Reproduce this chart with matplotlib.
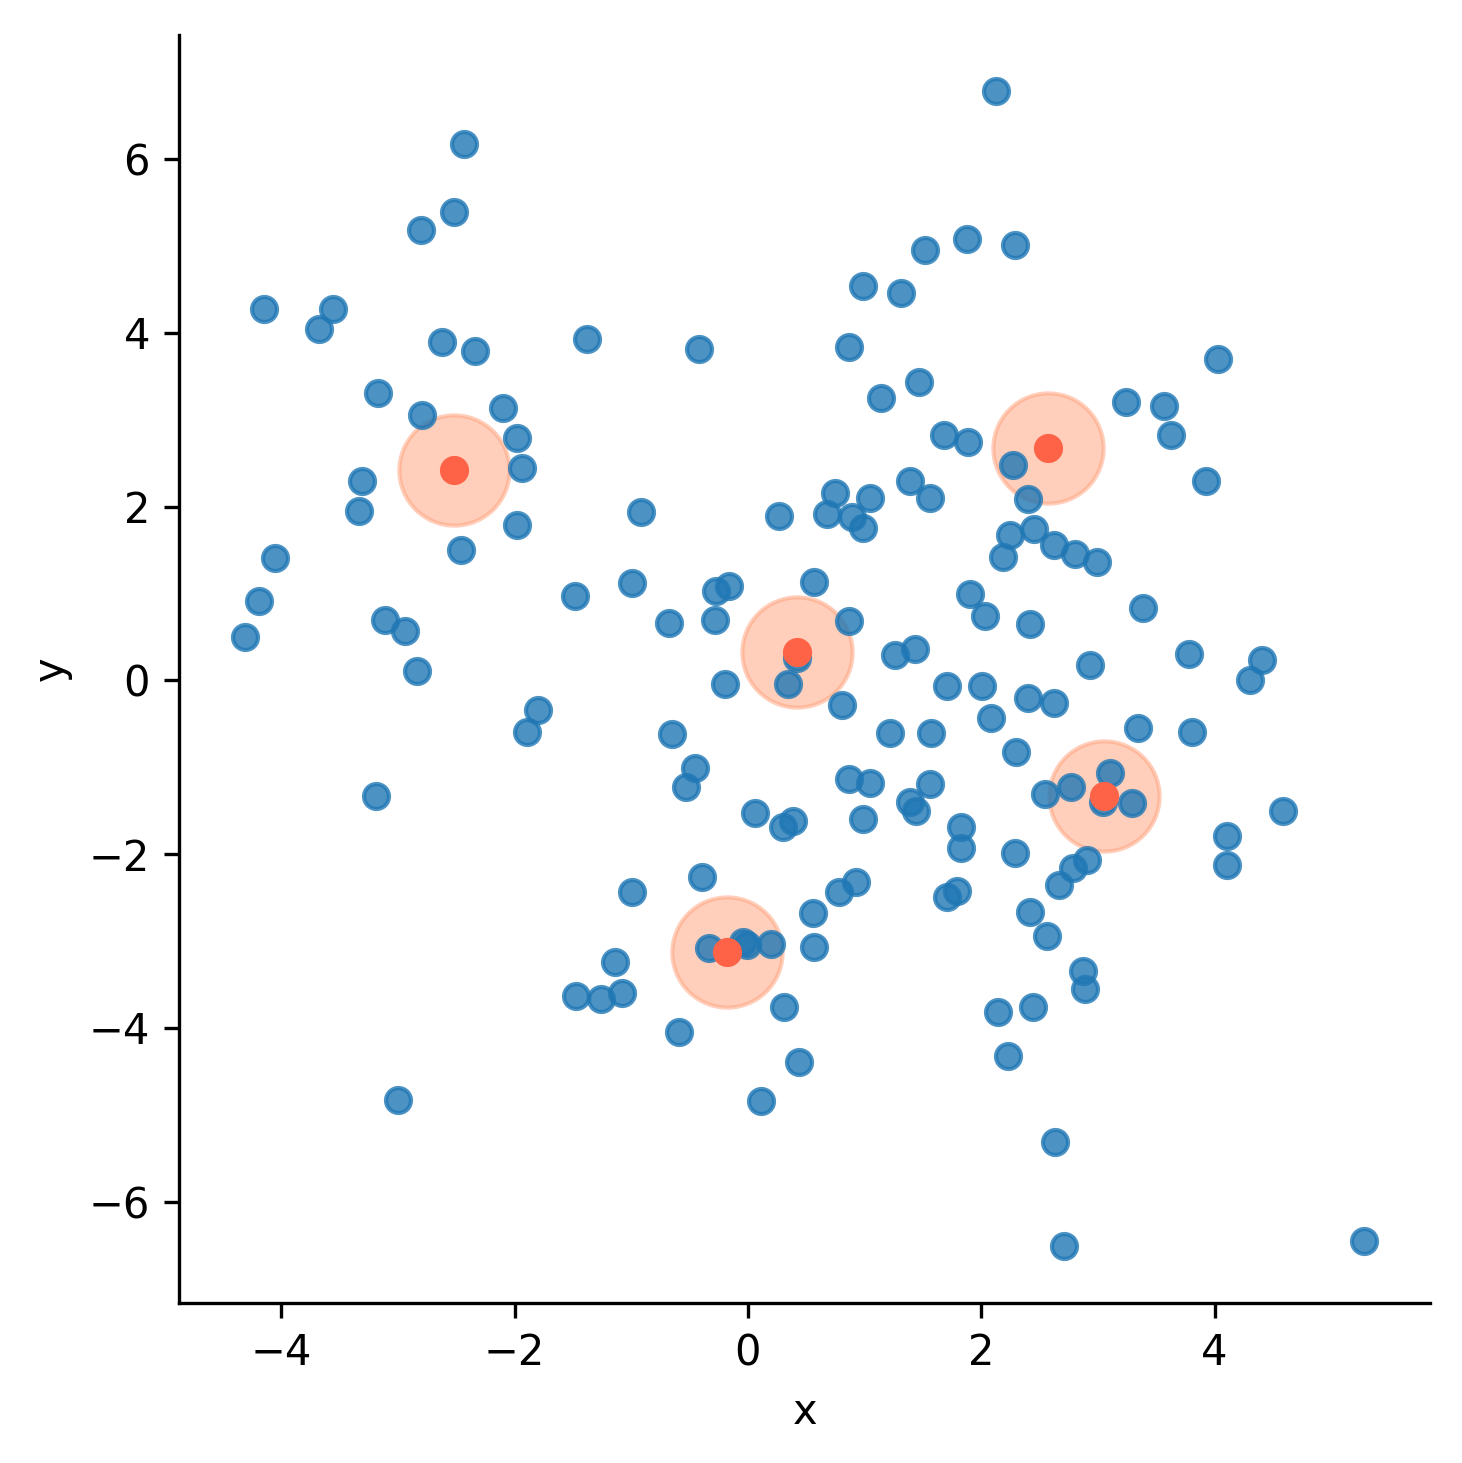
import numpy as np
import matplotlib
matplotlib.use("Agg")
import matplotlib.pyplot as plt

# scattered sample points
x = [2.13, -2.43, -2.52, -2.80, 1.88, 2.29, 1.52, 0.99, 1.31, -4.15,
     -3.56, -3.68, -1.38, -2.62, -0.42, -2.34, 0.87, 4.03, -3.17, 1.14,
     1.47, 3.24, 3.57, -2.10, -2.79, -1.98, 1.68, 1.89, 3.63, 2.27,
     -1.94, -3.31, 1.39, 3.93, 0.75, 1.56, 2.40, 1.05, -3.33, 0.27,
     -0.92, 0.68, 0.89, 0.99, 2.45, 2.25, -1.98, -2.46, 2.62, 2.80,
     2.99, 2.19, -4.05, 3.39, -4.19, 0.57, -0.99, -0.16, -0.27, -1.48,
     1.90, 2.03, -3.11, -0.28, -0.68, -2.94, 0.87, 2.42, -4.31, 0.42,
     3.78, 1.43, 1.26, 2.93, 4.41, -2.84, -0.20, 0.34, 1.71, 2.01,
     4.30, 2.40, 2.62, -1.80, 0.81, 2.08, 3.34, -1.89, -0.65, 1.22,
     1.57, 3.81, 2.30, -0.45, -0.53, 2.77, 0.87, 1.05, 1.56, 3.10,
     2.55, 3.04, 3.29, -3.19, 4.59, 1.39, 1.44, 0.06, 0.39, 0.30,
     0.99, 1.83, 4.11, 1.83, 2.29, 2.91, 4.11, 2.79, 2.67, -0.39,
     0.93, 0.78, 1.79, 1.71, -0.99, 0.56, 2.42, 2.56, -0.33, -0.04,
     -0.01, 0.20, 0.57, -1.14, 2.87, 2.89, -1.47, -1.26, -1.08, 0.31,
     2.44, 2.14, -0.59, 2.23, 0.44, -3.00, 0.11, 2.63, 2.71, 5.28]
y = [6.78, 6.17, 5.39, 5.18, 5.08, 5.01, 4.96, 4.54, 4.46, 4.27,
     4.27, 4.04, 3.93, 3.90, 3.81, 3.79, 3.84, 3.70, 3.31, 3.25,
     3.44, 3.20, 3.16, 3.13, 3.06, 2.79, 2.83, 2.75, 2.83, 2.48,
     2.45, 2.30, 2.29, 2.30, 2.16, 2.10, 2.09, 2.10, 1.95, 1.89,
     1.94, 1.91, 1.88, 1.76, 1.74, 1.67, 1.79, 1.50, 1.56, 1.46,
     1.36, 1.42, 1.41, 0.83, 0.91, 1.13, 1.12, 1.09, 1.03, 0.97,
     1.00, 0.74, 0.69, 0.69, 0.66, 0.57, 0.68, 0.65, 0.50, 0.26,
     0.30, 0.36, 0.29, 0.18, 0.23, 0.11, -0.04, -0.04, -0.07, -0.07,
     0.00, -0.20, -0.26, -0.34, -0.28, -0.43, -0.55, -0.59, -0.62, -0.61,
     -0.61, -0.59, -0.83, -1.01, -1.23, -1.23, -1.14, -1.18, -1.19, -1.07,
     -1.31, -1.40, -1.41, -1.33, -1.50, -1.40, -1.50, -1.53, -1.62, -1.69,
     -1.60, -1.69, -1.79, -1.93, -1.99, -2.07, -2.13, -2.16, -2.36, -2.26,
     -2.32, -2.44, -2.42, -2.49, -2.44, -2.68, -2.67, -2.94, -3.08, -3.01,
     -3.05, -3.03, -3.07, -3.24, -3.35, -3.55, -3.63, -3.67, -3.60, -3.76,
     -3.76, -3.82, -4.05, -4.32, -4.39, -4.83, -4.84, -5.31, -6.51, -6.45]

# cluster centres
cx = [-2.52, 0.42, 2.57, 3.05, -0.18]
cy = [2.42, 0.33, 2.68, -1.33, -3.13]

fig = plt.figure(figsize=(1462 / 300, 1463 / 300), dpi=300)
ax = fig.add_axes([0.1226, 0.1092, 0.8555, 0.8669])

ax.scatter(cx, cy, s=700, color='lightsalmon', alpha=0.5, linewidths=1.0, zorder=1)
ax.scatter(x, y, s=36, color='#1f77b4', alpha=0.8, linewidths=1.0, zorder=2)
ax.scatter(cx, cy, s=36, color='tomato', linewidths=1.0, zorder=3)

ax.set_xlim(-4.875, 5.846)
ax.set_ylim(-7.17, 7.43)
ax.set_xticks([-4, -2, 0, 2, 4])
ax.set_yticks([-6, -4, -2, 0, 2, 4, 6])
ax.set_xlabel('x')
ax.set_ylabel('y')
ax.spines['top'].set_visible(False)
ax.spines['right'].set_visible(False)

fig.savefig('out.png', dpi=300)
